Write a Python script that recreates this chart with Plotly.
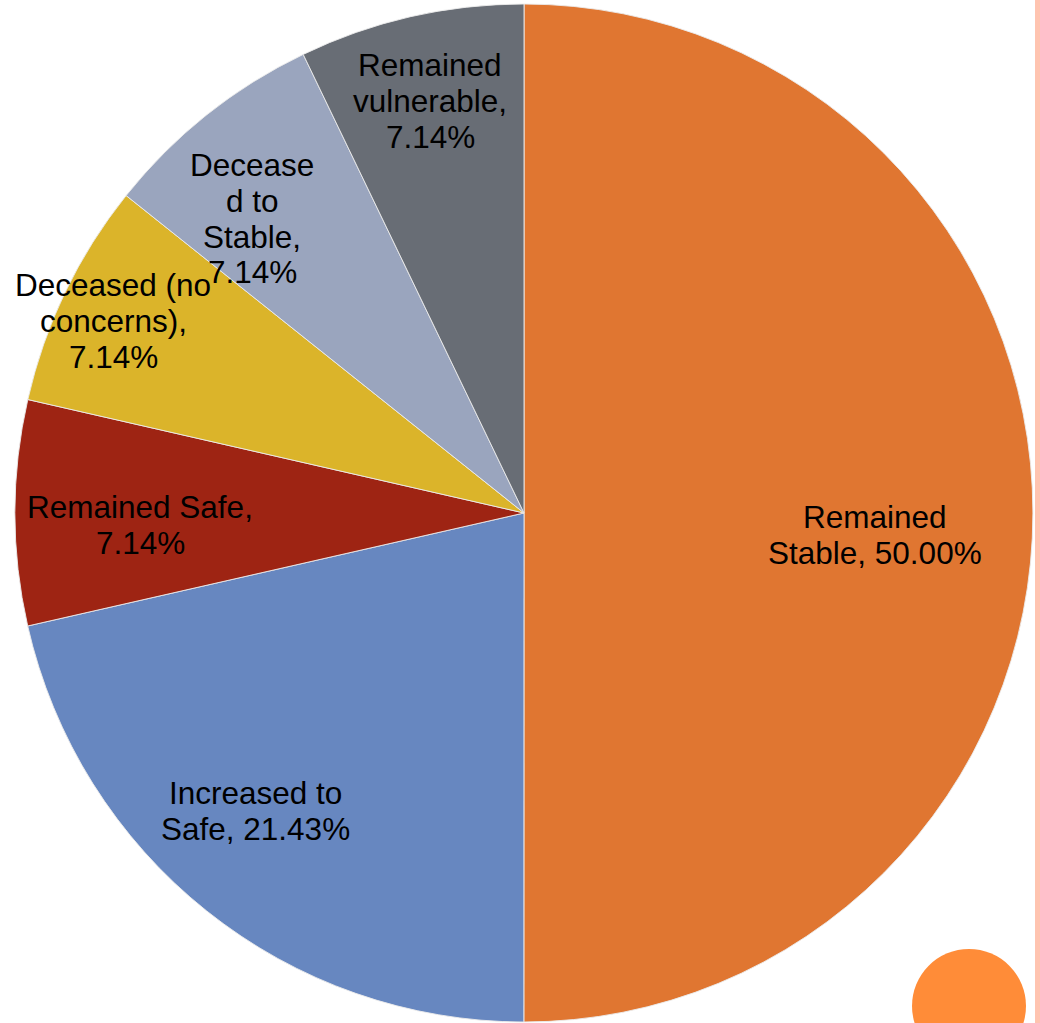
import plotly.graph_objects as go

# ---- data ----
categories = ["Remained Stable", "Increased to Safe", "Remained Safe",
              "Deceased (no concerns)", "Deceased to Stable", "Remained vulnerable"]
percentages = [50.00, 21.43, 7.14, 7.14, 7.14, 7.14]
colors = ["#E07631", "#6787C0", "#9E2413", "#DBB42A", "#9AA5BE", "#686D75"]

# how each data label wraps in the reference (text only)
label_lines = [
    ["Remained", "Stable, 50.00%"],
    ["Increased to", "Safe, 21.43%"],
    ["Remained Safe,", "7.14%"],
    ["Deceased (no", "concerns),", "7.14%"],
    ["Decease", "d to", "Stable,", "7.14%"],
    ["Remained", "vulnerable,", "7.14%"],
]

W, H = 1040, 1023
# label anchor (pixel centre of first line) - layout only
label_pos = [(875, 517), (255, 793), (140, 507), (113, 285), (252, 165), (430, 65)]
LINE = 35.8

fig = go.Figure(go.Pie(
    labels=categories,
    values=percentages,
    sort=False,
    direction="clockwise",
    rotation=0,
    marker=dict(colors=colors, line=dict(color="rgba(235,235,235,0.9)", width=1)),
    textinfo="none",
    hoverinfo="label+percent",
    showlegend=False,
    domain=dict(x=[15 / W, 1033 / W], y=[1 - 1022 / H, 1 - 4 / H]),
))

annotations = []
for lines, (px, py) in zip(label_lines, label_pos):
    for i, t in enumerate(lines):
        annotations.append(dict(
            x=px / W, y=1 - (py + i * LINE) / H, xref="paper", yref="paper",
            text=t, showarrow=False, xanchor="center", yanchor="middle",
            font=dict(family="Liberation Sans, Arial, sans-serif", size=31.5, color="#000000"),
        ))

shapes = [
    # pale stripe on the right edge
    dict(type="rect", xref="paper", yref="paper", x0=1035 / W, x1=1040 / W, y0=0, y1=1,
         fillcolor="#FFC4B0", line=dict(width=0), layer="below"),
    # orange decorative circle, bottom right
    dict(type="circle", xref="paper", yref="paper",
         x0=912 / W, x1=1026 / W, y0=1 - 1063 / H, y1=1 - 949 / H,
         fillcolor="#FF8C38", line=dict(width=0), layer="above"),
]

fig.update_layout(
    width=W, height=H,
    margin=dict(l=0, r=0, t=0, b=0),
    paper_bgcolor="white", plot_bgcolor="white",
    annotations=annotations,
    shapes=shapes,
)

fig.write_html("out.html")
